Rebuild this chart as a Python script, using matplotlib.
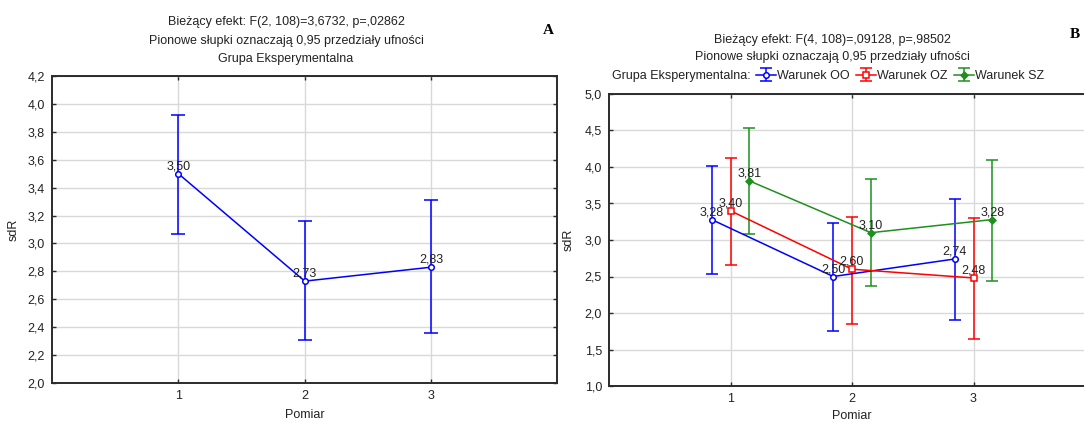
import matplotlib
matplotlib.use("Agg")
import matplotlib.pyplot as plt
from matplotlib.ticker import FuncFormatter
import numpy as np

plt.rcParams['font.family'] = ['Liberation Sans', 'DejaVu Sans']

# ---------------- data ----------------
pomiar = [1, 2, 3]

# Panel A
a_mean = [3.50, 2.73, 2.83]
a_low = [3.07, 2.31, 2.36]
a_high = [3.92, 3.16, 3.31]
a_labels = ["3,50", "2,73", "2,83"]

# Panel B
series_names = ["Warunek OO", "Warunek OZ", "Warunek SZ"]
b_oo_mean = [3.28, 2.50, 2.74]
b_oo_low = [2.53, 1.75, 1.91]
b_oo_high = [4.01, 3.23, 3.56]
b_oz_mean = [3.40, 2.60, 2.48]
b_oz_low = [2.66, 1.85, 1.64]
b_oz_high = [4.13, 3.32, 3.30]
b_sz_mean = [3.81, 3.10, 3.28]
b_sz_low = [3.08, 2.37, 2.44]
b_sz_high = [4.54, 3.83, 4.10]
b_oo_labels = ["3,28", "2,50", "2,74"]
b_oz_labels = ["3,40", "2,60", "2,48"]
b_sz_labels = ["3,81", "3,10", "3,28"]

title_a = ["Bieżący efekt: F(2, 108)=3,6732, p=,02862",
           "Pionowe słupki oznaczają 0,95 przedziały ufności",
           "Grupa Eksperymentalna"]
title_b = ["Bieżący efekt: F(4, 108)=,09128, p=,98502",
           "Pionowe słupki oznaczają 0,95 przedziały ufności"]
legend_title = "Grupa Eksperymentalna:"

# ---------------- figure ----------------
W, H = 1084, 423
fig = plt.figure(figsize=(W / 100, H / 100), dpi=100)


def px_axes(l, t, r, b):
    return fig.add_axes([l / W, 1 - b / H, (r - l) / W, (b - t) / H])


FS = 9
GRID = '#d9d9d9'
SPINE = '#2b2b2b'
TXT = '#222222'
LW = 1.1

comma = FuncFormatter(lambda v, p: f"{v:.1f}".replace('.', ','))


def style_axes(ax, ymin, ymax, ystep, xpad, ypad):
    ax.set_xlim(0, 4)
    ax.set_ylim(ymin, ymax)
    ax.set_xticks(pomiar)
    ax.set_yticks(np.arange(ymin, ymax + 1e-9, ystep))
    ax.yaxis.set_major_formatter(comma)
    ax.grid(True, color=GRID, linewidth=1.0)
    ax.set_axisbelow(True)
    for s in ax.spines.values():
        s.set_color(SPINE)
        s.set_linewidth(1.4)
    ax.tick_params(direction='in', length=3, width=1, color=SPINE,
                   top=True, right=True, labelsize=FS, labelcolor=TXT, pad=5)
    ax.set_xlabel("Pomiar", fontsize=FS, color=TXT, labelpad=xpad)
    ax.set_ylabel("sdR", fontsize=FS, color=TXT, labelpad=ypad)


# ---------------- Panel A ----------------
axA = px_axes(52, 76, 557.5, 383)
style_axes(axA, 2.0, 4.2, 0.2, 5, 6)
a_err = [np.array(a_mean) - np.array(a_low), np.array(a_high) - np.array(a_mean)]
axA.errorbar(pomiar, a_mean, yerr=a_err, color='#0000ff', lw=LW,
             marker='o', ms=4, mfc='white', mec='#0000ff', mew=1.1,
             capsize=5, capthick=LW, elinewidth=LW)
for x, y, t in zip(pomiar, a_mean, a_labels):
    axA.annotate(t, (x, y), xytext=(0, 1.0), textcoords='offset points',
                 ha='center', va='bottom', fontsize=FS, color=TXT)

for i, line in enumerate(title_a):
    fig.text(286 / W, 1 - (22.5 + 18.2 * i) / H, line, ha='center', va='center',
             fontsize=FS, color=TXT)
fig.text(548 / W, 1 - 30 / H, "A", ha='center', va='center', fontsize=11,
         fontweight='bold', family='Liberation Serif', color='black')

# ---------------- Panel B ----------------
axB = px_axes(609, 94, 1095, 386)
style_axes(axB, 1.0, 5.0, 0.5, 3.5, 7)

offsets = [-0.155, 0.0, 0.155]
colors = ['#0000ff', '#ff0000', '#1f8f1f']
markers = ['o', 's', 'D']
mfcs = ['white', 'white', '#1f8f1f']
means = [b_oo_mean, b_oz_mean, b_sz_mean]
lows = [b_oo_low, b_oz_low, b_sz_low]
highs = [b_oo_high, b_oz_high, b_sz_high]
labels = [b_oo_labels, b_oz_labels, b_sz_labels]

handles = []
for name, off, c, m, fc, mu, lo, hi, lab in zip(series_names, offsets, colors,
                                                 markers, mfcs, means, lows,
                                                 highs, labels):
    xs = np.array(pomiar) + off
    mu = np.array(mu)
    err = [mu - np.array(lo), np.array(hi) - mu]
    h = axB.errorbar(xs, mu, yerr=err, color=c, lw=LW, marker=m,
                     ms=4 if m != 'D' else 3.5, mfc=fc, mec=c, mew=1.1,
                     capsize=4.5, capthick=LW, elinewidth=LW, label=name)
    handles.append(h)
    for x, y, t in zip(xs, mu, lab):
        axB.annotate(t, (x, y), xytext=(0, 1.0), textcoords='offset points',
                     ha='center', va='bottom', fontsize=FS, color=TXT)

for i, line in enumerate(title_b):
    fig.text(832 / W, 1 - (40.5 + 16.5 * i) / H, line, ha='center', va='center',
             fontsize=FS, color=TXT)
fig.text(751 / W, 1 - 76 / H, legend_title, ha='right', va='center',
         fontsize=FS, color=TXT)
fig.legend(handles=handles, labels=series_names, loc='center left',
           bbox_to_anchor=(756 / W, 1 - 76 / H), ncol=3, frameon=False,
           fontsize=FS, handlelength=1.6, handletextpad=0.1,
           columnspacing=0.5, borderaxespad=0, borderpad=0,
           labelcolor=TXT)
fig.text(1075 / W, 1 - 35 / H, "B", ha='center', va='center', fontsize=11,
         fontweight='bold', family='Liberation Serif', color='black')

fig.savefig("out.png", dpi=100, facecolor='white')
